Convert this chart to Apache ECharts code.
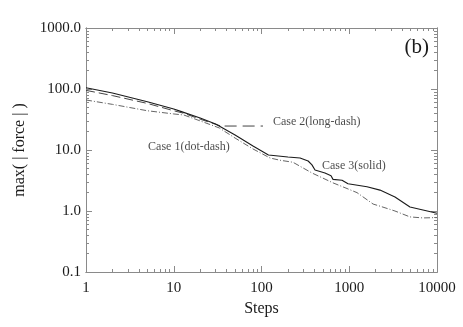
<!DOCTYPE html>
<html lang="en">
<head>
    <meta charset="UTF-8"/>
    <title>max force vs steps</title>
    <script src="https://cdn.jsdelivr.net/npm/echarts@6/dist/echarts.min.js"></script>
    <style>
        html, body { margin: 0; padding: 0; background: #fff; }
        #main { width: 463px; height: 327px; }
    </style>
</head>
<body>
<div id="main"></div>
<script type="text/javascript">
    // data
    var case3Steps = [1, 2, 5, 10, 12, 20, 30, 50, 80, 120, 200, 275, 340, 376, 407, 529, 620, 653, 827, 968, 1593, 2240, 3320, 4920, 6920, 10000];
    var case3Vals  = [105, 86, 62, 47, 43, 33.5, 26.7, 17.6, 11.6, 8.3, 7.7, 7.4, 6.6, 5.7, 4.7, 4.2, 3.8, 3.3, 3.2, 2.8, 2.5, 2.2, 1.7, 1.16, 1.04, 0.92];

    var case2Steps = [1, 2, 5, 10, 13, 20, 35];
    var case2Vals  = [95, 78, 58, 44, 40, 32, 24.5];

    var case1Steps = [1, 2, 5, 10, 13, 20, 33, 50, 80, 125, 162, 228, 376, 650, 968, 1226, 1870, 2240, 3320, 4920, 6920, 10000];
    var case1Vals  = [66, 56, 44, 39, 37.5, 30, 23, 15.7, 10.4, 7.4, 6.8, 6.3, 4.2, 2.9, 2.3, 2.0, 1.3, 1.2, 1.0, 0.8, 0.77, 0.78];

    // dashed leader next to the case 2 label
    var leaderSteps = [38, 104];
    var leaderVals  = [24.7, 24.7];

    var labelTexts = ['Case 2(long-dash)', 'Case 1(dot-dash)', 'Case 3(solid)'];
    var labelSteps = [135, 5.1, 489];
    var labelVals  = [28.8, 11.2, 5.47];

    var xMajor = [1, 10, 100, 1000, 10000];
    var yMajor = [0.1, 1, 10, 100, 1000];

    function minorsOf(majors) {
        var out = [];
        for (var i = 0; i < majors.length - 1; i++) {
            for (var k = 2; k <= 9; k++) out.push(+(majors[i] * k).toPrecision(3));
        }
        return out;
    }
    var xMinor = minorsOf(xMajor);
    var yMinor = minorsOf(yMajor);

    function zip(a, b) {
        var r = [];
        for (var i = 0; i < a.length; i++) r.push([a[i], b[i]]);
        return r;
    }

    var axisCol = '#8a8a8a';
    var txtCol = '#1a1a1a';
    var serif = 'Liberation Serif';

    // one axis per (side, tick kind) so majors and minors get their own lengths
    function makeAxis(kind, pos, ticks, len, labels) {
        var isX = kind === 'x';
        var ax = {
            type: 'log',
            logBase: 10,
            position: pos,
            min: isX ? 1 : 0.1,
            max: isX ? 10000 : 1000,
            splitLine: { show: false },
            axisLine: { show: true, lineStyle: { color: axisCol, width: 1 } },
            axisTick: { show: true, inside: true, length: len, customValues: ticks,
                        lineStyle: { color: axisCol, width: 1 } },
            axisLabel: { show: false }
        };
        if (labels) {
            ax.axisLabel = {
                show: true,
                customValues: ticks,
                color: txtCol,
                fontFamily: serif,
                fontSize: 15,
                margin: isX ? 9 : 5,
                formatter: function (v) {
                    return isX ? String(Math.round(v)) : Number(v).toFixed(1);
                }
            };
            ax.name = isX ? 'Steps' : 'max( | force | )';
            ax.nameLocation = 'middle';
            ax.nameGap = isX ? 28 : 58;
            ax.nameTextStyle = { color: txtCol, fontFamily: serif, fontSize: 16 };
        }
        return ax;
    }

    var myChart = echarts.init(document.getElementById('main'), null, { renderer: 'canvas' });

    var option = {
        animation: false,
        backgroundColor: '#fff',
        title: {
            text: '(b)',
            right: 29,
            top: 32,
            textStyle: { color: txtCol, fontFamily: serif, fontSize: 21, fontWeight: 'normal' }
        },
        grid: { left: 86, right: 26, top: 28, bottom: 55, outerBoundsMode: 'none' },
        xAxis: [
            makeAxis('x', 'bottom', xMajor, 6, true),
            makeAxis('x', 'bottom', xMinor, 3, false),
            makeAxis('x', 'top', xMajor, 6, false),
            makeAxis('x', 'top', xMinor, 3, false)
        ],
        yAxis: [
            makeAxis('y', 'left', yMajor, 6, true),
            makeAxis('y', 'left', yMinor, 3, false),
            makeAxis('y', 'right', yMajor, 6, false),
            makeAxis('y', 'right', yMinor, 3, false)
        ],
        series: [
            {
                name: 'Case 1',
                type: 'line',
                data: zip(case1Steps, case1Vals),
                showSymbol: false,
                lineStyle: { color: '#666', width: 1, type: [6, 2, 1, 2] }
            },
            {
                name: 'Case 2',
                type: 'line',
                data: zip(case2Steps, case2Vals),
                showSymbol: false,
                lineStyle: { color: '#444', width: 1, type: [9, 4] }
            },
            {
                name: 'Case 3',
                type: 'line',
                data: zip(case3Steps, case3Vals),
                showSymbol: false,
                lineStyle: { color: '#1a1a1a', width: 1.1 }
            },
            {
                name: 'leader',
                type: 'line',
                data: zip(leaderSteps, leaderVals),
                showSymbol: false,
                lineStyle: { color: '#444', width: 1, type: [12, 6] }
            },
            {
                name: 'labels',
                type: 'scatter',
                symbolSize: 0,
                silent: true,
                data: labelTexts.map(function (t, i) {
                    return { name: t, value: [labelSteps[i], labelVals[i]] };
                }),
                label: {
                    show: true,
                    position: 'right',
                    distance: 0,
                    formatter: '{b}',
                    color: txtCol,
                    fontFamily: serif,
                    fontSize: 12
                }
            }
        ]
    };

    myChart.setOption(option);
</script>
</body>
</html>
